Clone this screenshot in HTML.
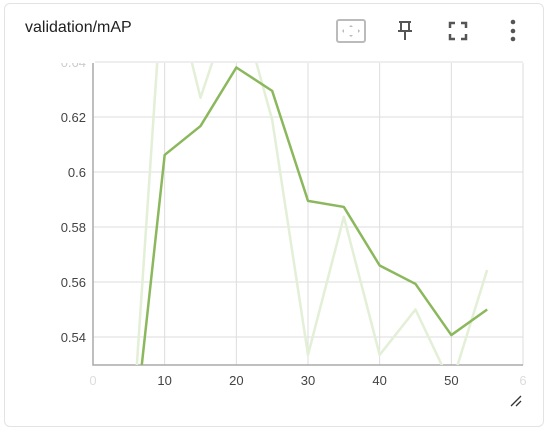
<!DOCTYPE html>
<html><head><meta charset="utf-8"><style>
html,body{margin:0;padding:0;width:550px;height:432px;overflow:hidden;background:#fff;font-family:"Liberation Sans",sans-serif;}
#card{position:absolute;left:4px;top:3px;width:540px;height:424px;border:1px solid #e3e3e3;border-radius:6px;box-sizing:border-box;}
#title{position:absolute;left:25px;top:19px;font-size:16px;color:#212121;}
</style></head><body>
<div id="card"></div>
<div id="title">validation/mAP</div>
<svg width="550" height="432" style="position:absolute;left:0;top:0;display:block">
 <g>
  <rect x="337" y="20" width="28" height="22" rx="2" fill="none" stroke="#bbb" stroke-width="2"/>
  <path d="M351 25l-2 2h4zM351 37l-2-2h4zM342 31l2-2v4zM360 31l-2-2v4z" fill="#bbb"/>
 </g>
 <g stroke="#555" stroke-width="2" fill="none">
  <path d="M399 22h12M401 22v9M409 22v9M398 31h14M405 31v9"/>
 </g>
 <g stroke="#555" stroke-width="2.5" fill="none">
  <path d="M450 28v-5h5M461 23h5v5M466 34v5h-5M455 39h-5v-5"/>
 </g>
 <g fill="#555">
  <circle cx="513" cy="22" r="2.3"/><circle cx="513" cy="31" r="2.3"/><circle cx="513" cy="39" r="2.3"/>
 </g>
 <g id="plot"></g>
 <g stroke="#333" stroke-width="1.3">
  <path d="M511 406l10-10M516 406l5-5"/>
 </g>
</svg>
<script>
const steps=[5,10,15,20,25,30,35,40,45,50,55];
const smoothed=[0.4866,0.6062,0.6167,0.638,0.6295,0.5895,0.5873,0.566,0.5593,0.5407,0.550];
const raw=[0.4866,0.68,0.627,0.666,0.619,0.5335,0.5837,0.5335,0.550,0.5225,0.5644];
const xTicks=[0,10,20,30,40,50,60];
const yTicks=[0.54,0.56,0.58,0.60,0.62,0.64];
const L=93,R=523,T=63,B=365;
const xs=v=>L+(v-0)/(60-0)*(R-L);
const ys=v=>337-(v-0.54)/0.01*27.5;
const NS="http://www.w3.org/2000/svg";
const g=document.getElementById('plot');
function mk(t,a){const e=document.createElementNS(NS,t);for(const k in a)e.setAttribute(k,a[k]);return e;}
const defs=mk('defs',{});const cp=mk('clipPath',{id:'c'});cp.appendChild(mk('rect',{x:L,y:T,width:R-L,height:B-T}));defs.appendChild(cp);g.appendChild(defs);
xTicks.forEach(t=>{const x=xs(t);
 const l=mk('line',{x1:x,x2:x,y1:T,y2:B,stroke:'#ddd'});
 
 g.appendChild(l);
 const tx=mk('text',{x:x,y:385,'text-anchor':'middle','font-size':'13',fill:(t==0||t==60)?'#ddd':'#444'});
 tx.textContent=t==60?'6':String(t);
 
 g.appendChild(tx);});
yTicks.forEach(t=>{const y=ys(t);
 const l=mk('line',{x1:L,x2:R,y1:y,y2:y,stroke:'#ddd'});
 
 g.appendChild(l);
 const tx=mk('text',{x:86,y:y+5,'text-anchor':'end','font-size':'13',fill:t>=0.64?'#ccc':'#444'});
 tx.textContent=String(t.toFixed(2)).replace(/^0\.60$/,'0.6');
 
 g.appendChild(tx);});
const cover=mk('rect',{x:50,y:48,width:45,height:15,fill:'#fff'});g.appendChild(cover);
const ax=mk('path',{d:`M${L} ${T}V${B}H${R}`,stroke:'#aaa',fill:'none','stroke-width':1.5});

g.appendChild(ax);
function line(arr,col,w,name){const d=arr.map((v,i)=>(i?'L':'M')+xs(steps[i])+' '+ys(v)).join('');
 const p=mk('path',{d:d,stroke:col,'stroke-width':w,fill:'none','clip-path':'url(#c)','stroke-linejoin':'round'});
 
 g.appendChild(p);}
line(raw,'#e3efd6',2.5,'raw-series-line');
line(smoothed,'#8bb85c',2.5,'smoothed-series-line');
</script>
</body></html>
